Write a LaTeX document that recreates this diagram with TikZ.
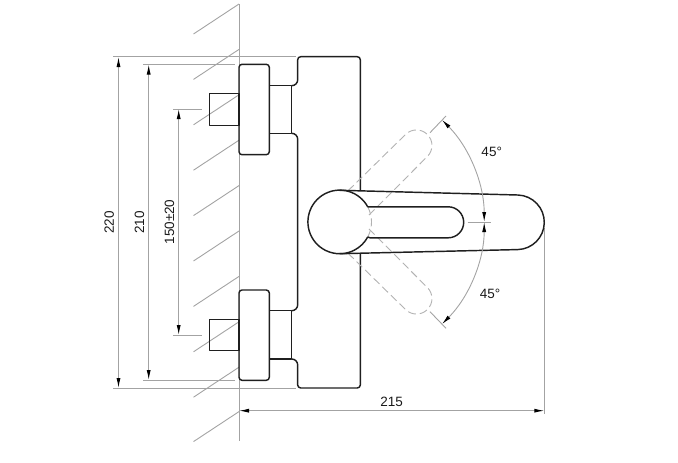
\documentclass[tikz,border=0pt]{standalone}
\usepackage{fontspec}
\setmainfont{Liberation Sans}
\usetikzlibrary{arrows.meta, calc}

\tikzset{
	outline/.style = {line width = 1.45pt, black!88, line join = round},
	thin gray/.style = {line width = 0.9pt, black!36},
	hidden line/.style = {line width = 0.9pt, black!30, dash pattern = on 8pt off 4pt},
	dimension/.style = {thin gray, {Latex[length = 10pt, width = 4pt, black]}-{Latex[length = 10pt, width = 4pt, black]}},
	dim label/.style = {inner sep = 0pt, font = \fontsize{13.5pt}{14pt}\selectfont, black!90}
}

\begin{document}
\begin{tikzpicture}[x = 1pt, y = -1pt]
		\def\wall{239}
		\def\r{3pt}
		
		\useasboundingbox (0,0) rectangle (678,463);
		
		\coordinate (wall top) at (\wall,4);
		\coordinate (wall bottom) at (\wall,441);
		\coordinate (pivot) at (339.7,222);
		
		% wall
		\draw [thin gray] (wall top) -- (wall bottom);
		\foreach \y in {4,49.4,94.8,140.2,185.6,231,276.4,321.8,367.2,411.6}
			\draw [thin gray] (\wall,\y) -- (193.5,{\y + 30});
		
		% extension lines
		\draw [thin gray] (113,56.7) -- (296,56.7);
		\draw [thin gray] (113,388) -- (296,388);
		\draw [thin gray] (143,64.3) -- (235,64.3);
		\draw [thin gray] (143,380.3) -- (235,380.3);
		\draw [thin gray] (173,109) -- (201.7,109);
		\draw [thin gray] (173,335) -- (201.7,335);
		\draw [thin gray] (544.3,228) -- (544.3,414);
		
		% dimensions
		\draw [dimension] (118.5,57) -- (118.5,388) node (label a) [midway, left = 4pt, dim label, rotate = 90, anchor = south] {220};
		\draw [dimension] (148.7,64.5) -- (148.7,380) node (label b) [midway, left = 4pt, dim label, rotate = 90, anchor = south] {210};
		\draw [dimension] (178.7,109) -- (178.7,335) node (label c) [midway, left = 4pt, dim label, rotate = 90, anchor = south] {150±20};
		\draw [dimension] (\wall,410.7) -- (544.3,410.7) node (label d) [midway, above = 4pt, dim label] {215};
		
		% upper and lower fixing
		\foreach \t/\b/\n/\s/\u/\v in {64.3/154.7/85.7/133.3/93.7/125.3, 290/380.3/310.7/359/319.3/350.7} {
			\draw [outline] (209.3,\u) rectangle (\wall,\v);
			\draw [outline, rounded corners = \r] (\wall,\t) -- (269.3,\t) -- (269.3,\b) -- (\wall,\b) -- cycle;
			\draw [outline] (269.3,\n) -- (291.7,\n) -- (291.7,\s) -- (269.3,\s);
		}
		
		% body
		\draw [outline] (360.3,190.5) -- (360.3,59.7) arc [start angle = 0, end angle = 90, radius = \r] -- (300.7,56.7) arc [start angle = 90, end angle = 180, radius = \r] -- (297.7,79.7) arc [start angle = 0, end angle = -90, radius = 6pt];
		\draw [outline] (291.7,133.3) arc [start angle = 90, end angle = 0, radius = 6pt] -- (297.7,304.7) arc [start angle = 0, end angle = -90, radius = 6pt];
		\draw [outline] (291.7,359) arc [start angle = 90, end angle = 0, radius = 6pt] -- (297.7,385) arc [start angle = 180, end angle = 270, radius = \r] -- (357.3,388) arc [start angle = 270, end angle = 360, radius = \r] -- (360.3,253.5);
		
		% turned positions of the lever
		\draw [hidden line] (348,190.8) -- (405.5,134.5) arc [start angle = 135, end angle = -45, radius = 15.5pt] -- (368.5,215.5);
		\draw [hidden line] (348,253.2) -- (405.5,309.5) arc [start angle = -135, end angle = 45, radius = 15.5pt] -- (368.5,228.5);
		\draw [hidden line] (367.8,207) arc [start angle = 28, end angle = -28, radius = 31.8pt];
		
		% lever
		\draw [outline] (367.8,207) arc [start angle = 28, end angle = 332, radius = 31.8pt];
		\draw [outline] (339.7,190.3) -- (517.7,195) arc [start angle = 88.5, end angle = -88.5, radius = 27.3pt] -- (339.7,253.7);
		\draw [outline] (367.8,207) -- (370,206.8) -- (448.2,206.8) arc [start angle = 90, end angle = -90, radius = 15.5pt] -- (370,237.8) -- (367.8,237);
		
		% angle
		\draw [thin gray] (430,132.7) -- (446,116);
		\draw [thin gray] (430,311.7) -- (446,328.3);
		\draw [thin gray] (467.7,222) -- (490.7,222);
		\draw [dimension] ($ (pivot) + (45:144.5pt) $) arc [start angle = 45, end angle = 0, radius = 144.5pt];
		\draw [dimension] ($ (pivot) + (-45:144.5pt) $) arc [start angle = -45, end angle = 0, radius = 144.5pt];
		
		\node (upper angle) [dim label] at (491.7,152) {45°};
		\node (lower angle) [dim label] at (490,294) {45°};
	\end{tikzpicture}
\end{document}
